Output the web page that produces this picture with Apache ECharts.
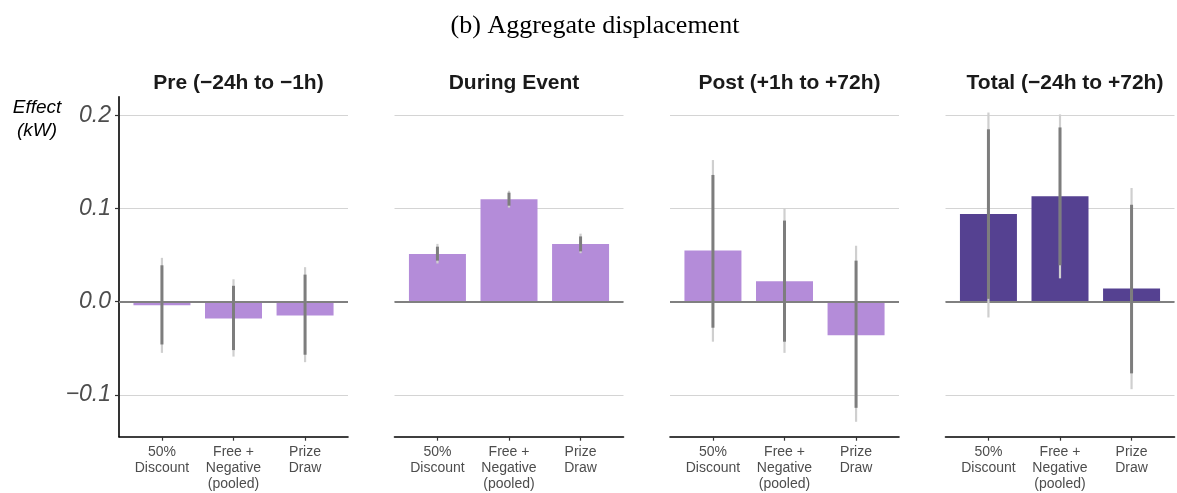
<!DOCTYPE html>
<html>
<head>
<meta charset="utf-8">
<script src="https://cdn.jsdelivr.net/npm/echarts@6/dist/echarts.min.js"></script>
<style>
html,body{margin:0;padding:0;background:#fff;}
#chart{width:1177px;height:493px;}
</style>
</head>
<body>
<div id="chart"></div>
<script>
// ---- data ----
const categories = ['50%\nDiscount', 'Free +\nNegative\n(pooled)', 'Prize\nDraw'];
const panelTitles = ['Pre (\u221224h to \u22121h)', 'During Event', 'Post (+1h to +72h)', 'Total (\u221224h to +72h)'];
const yTicks = [-0.1, 0, 0.1, 0.2];

const estPre    = [-0.004, -0.018, -0.015];
const estDuring = [0.051, 0.110, 0.062];
const estPost   = [0.055, 0.022, -0.036];
const estTotal  = [0.094, 0.113, 0.014];

// outer (95%) intervals: [low, high]
const ci95Pre    = [[-0.055, 0.047], [-0.059, 0.024], [-0.065, 0.037]];
const ci95During = [[0.041, 0.062], [0.101, 0.119], [0.052, 0.073]];
const ci95Post   = [[-0.043, 0.152], [-0.055, 0.100], [-0.129, 0.060]];
const ci95Total  = [[-0.017, 0.203], [0.025, 0.201], [-0.094, 0.122]];

// inner (90%) intervals: [low, high]
const ci90Pre    = [[-0.046, 0.039], [-0.052, 0.017], [-0.057, 0.029]];
const ci90During = [[0.044, 0.059], [0.103, 0.117], [0.054, 0.070]];
const ci90Post   = [[-0.028, 0.136], [-0.043, 0.087], [-0.114, 0.044]];
const ci90Total  = [[0.003, 0.185], [0.039, 0.187], [-0.077, 0.104]];

const panelEst = [estPre, estDuring, estPost, estTotal];
const panelCi95 = [ci95Pre, ci95During, ci95Post, ci95Total];
const panelCi90 = [ci90Pre, ci90During, ci90Post, ci90Total];

// ---- styling / layout ----
const lightPurple = '#b48cd9';
const darkPurple = '#554191';
const panelColors = [lightPurple, lightPurple, lightPurple, darkPurple];
const gridLefts = [119, 394.5, 670, 945.5];
const gridW = 229;
const gridTop = 96.7;
const gridH = 340;

const chart = echarts.init(document.getElementById('chart'), null, {renderer: 'canvas'});

const grids = [], xAxes = [], yAxes = [], series = [], titles = [];

titles.push({
  text: '(b) Aggregate displacement',
  left: 590, top: 8, textAlign: 'center',
  textStyle: {fontFamily: 'Liberation Serif', fontWeight: 'normal', fontSize: 26, color: '#000'}
});
titles.push({
  text: 'Effect\n(kW)',
  left: 32, top: 91, textAlign: 'center',
  textStyle: {fontFamily: 'Liberation Sans', fontStyle: 'italic', fontWeight: 'normal', fontSize: 19, lineHeight: 23, color: '#000'}
});

for (let p = 0; p < 4; p++) {
  grids.push({left: gridLefts[p], top: gridTop, width: gridW, height: gridH, containLabel: false});
  titles.push({
    text: panelTitles[p],
    left: gridLefts[p] + gridW / 2, top: 68, textAlign: 'center',
    textStyle: {fontFamily: 'Liberation Sans', fontWeight: 'bold', fontSize: 21, color: '#1a1a1a'}
  });
  xAxes.push({
    type: 'value', gridIndex: p, min: 0.4, max: 3.6,
    axisLine: {show: true, onZero: false, lineStyle: {color: '#000', width: 1.6}},
    axisTick: {show: true, customValues: [1, 2, 3], length: 4, lineStyle: {color: '#333', width: 1.2}},
    axisLabel: {
      show: true, customValues: [1, 2, 3], margin: 7,
      formatter: v => categories[Math.round(v) - 1] || '',
      fontFamily: 'Liberation Sans', fontSize: 14, lineHeight: 16, color: '#4d4d4d'
    },
    splitLine: {show: false}
  });
  yAxes.push({
    type: 'value', gridIndex: p, min: -0.145, max: 0.22,
    axisLine: {show: p === 0, lineStyle: {color: '#000', width: 1.6}},
    axisTick: {show: p === 0, customValues: yTicks, length: 4, lineStyle: {color: '#333', width: 1.2}},
    axisLabel: {
      show: p === 0, customValues: yTicks, margin: 8,
      formatter: v => (v < 0 ? '\u2212' + Math.abs(v).toFixed(1) : v.toFixed(1)),
      fontFamily: 'Liberation Sans', fontStyle: 'italic', fontSize: 23, color: '#4d4d4d'
    },
    splitLine: {show: true, lineStyle: {color: '#d4d4d4', width: 1}}
  });
  series.push({
    type: 'bar', xAxisIndex: p, yAxisIndex: p,
    data: panelEst[p].map((v, i) => [i + 1, v]),
    barWidth: 57,
    itemStyle: {color: panelColors[p]},
    silent: true,
    markLine: {
      silent: true, symbol: 'none', label: {show: false},
      lineStyle: {color: '#808080', width: 2, type: 'solid'},
      data: [{yAxis: 0}]
    },
    z: 2
  });
  series.push({
    type: 'custom', xAxisIndex: p, yAxisIndex: p, silent: true, z: 5,
    data: panelEst[p].map((v, i) => [i + 1, panelCi95[p][i][0], panelCi95[p][i][1], panelCi90[p][i][0], panelCi90[p][i][1]]),
    renderItem: function (params, api) {
      const x = api.value(0);
      const o1 = api.coord([x, api.value(1)]);
      const o2 = api.coord([x, api.value(2)]);
      const i1 = api.coord([x, api.value(3)]);
      const i2 = api.coord([x, api.value(4)]);
      return {
        type: 'group',
        children: [
          {type: 'line', shape: {x1: o1[0], y1: o1[1], x2: o2[0], y2: o2[1]},
           style: {stroke: '#cfcfcf', lineWidth: 2.2}},
          {type: 'line', shape: {x1: i1[0], y1: i1[1], x2: i2[0], y2: i2[1]},
           style: {stroke: '#7d7d7d', lineWidth: 3}}
        ]
      };
    }
  });
}

chart.setOption({
  backgroundColor: '#fff',
  animation: false,
  title: titles,
  grid: grids,
  xAxis: xAxes,
  yAxis: yAxes,
  series: series
});
</script>
</body>
</html>
